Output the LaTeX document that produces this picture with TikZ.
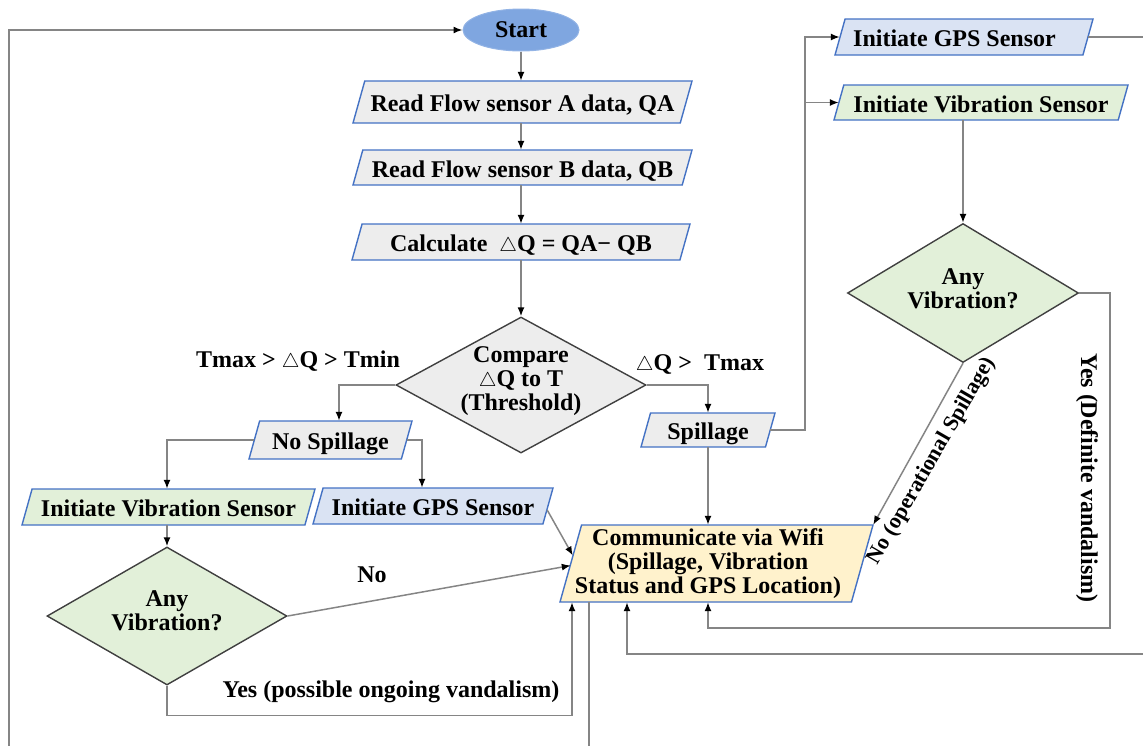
\documentclass[tikz,border=0pt]{standalone}
\usepackage{fontspec}
\setmainfont{Liberation Serif}
\usepackage{graphicx}
\usetikzlibrary{shapes.geometric,arrows.meta,calc}
\definecolor{pborder}{HTML}{4472C4}
\definecolor{dborder}{HTML}{404040}
\definecolor{conn}{HTML}{858585}
\definecolor{fgray}{HTML}{EDEDED}
\definecolor{fgreen}{HTML}{E2F0D9}
\definecolor{fblue}{HTML}{DAE3F3}
\definecolor{fyellow}{HTML}{FFF2CC}
\definecolor{fstart}{HTML}{7FA6E0}
\newcommand{\mytri}{\scalebox{0.8}{$\triangle$}}
% parallelogram: name, cx, cy, width, height, fill, text
\newcommand{\mypara}[7]{%
  \path[fill=#6, draw=pborder, line width=1.4pt]
    ({#2-#4/2},{#3+#5/2}) -- ({#2-#4/2+0.28*#5},{#3-#5/2}) --
    ({#2+#4/2},{#3-#5/2}) -- ({#2+#4/2-0.28*#5},{#3+#5/2}) -- cycle;
  \node[ptxt, minimum width=#4pt, minimum height=#5pt] (#1) at (#2,#3) {#7};}
\begin{document}
\begin{tikzpicture}[x=1pt,y=-1pt,
  every node/.style={font=\fontsize{24}{24}\selectfont\bfseries},
  ptxt/.style={rectangle, inner sep=0pt, text height=19pt, text depth=0pt},
  dia/.style={diamond, draw=dborder, line width=1.4pt, inner sep=0pt},
  lbl/.style={align=center, inner sep=0pt},
  link/.style={draw=conn, line width=1.5pt, -{Latex[length=9pt,width=7pt,color=black]}}]
\useasboundingbox (0,0) rectangle (1143,745);
\clip (0,0) rectangle (1143,745);

% ---- nodes ----
\node[ellipse, fill=fstart, draw=fstart!85!white, line width=1pt, minimum width=116pt, minimum height=42pt, inner sep=0pt] (start) at (521,30) {Start};
\mypara{readA}{522.5}{102}{339}{42}{fgray}{Read Flow sensor A data, QA}
\mypara{readB}{522.5}{167.5}{339}{35}{fgray}{Read Flow sensor B data, QB}
\mypara{calc}{521}{242}{338}{36}{fgray}{Calculate\ \ \mytri Q = QA− QB}
\node[dia, fill=fgray, minimum width=250pt, minimum height=136pt] (cmp) at (521,385) {};
\node[lbl] (cmpT) at (521,381) {Compare\\\mytri Q to T\\(Threshold)};

\mypara{nospill}{330.5}{440}{163}{38}{fgray}{No Spillage}
\mypara{vibL}{168.5}{507}{293}{36}{fgreen}{Initiate Vibration Sensor}
\mypara{gpsL}{433}{506}{240}{36}{fblue}{Initiate GPS Sensor}
\node[dia, fill=fgreen, minimum width=240pt, minimum height=138pt] (vibLd) at (167,616) {};
\node[lbl] (vibLdT) at (167,611) {Any\\Vibration?};

\mypara{spill}{708}{430}{134}{34}{fgray}{Spillage}
\mypara{comm}{716.5}{563.5}{313}{77}{fyellow}{}
\node[lbl] (commT) at (708,563.5) {Communicate via Wifi\\(Spillage, Vibration\\Status and GPS Location)};

\mypara{gpsR}{964}{37}{258}{36}{fblue}{\hspace*{-19pt}Initiate GPS Sensor}
\mypara{vibR}{981}{102.5}{294}{35}{fgreen}{Initiate Vibration Sensor}
\node[dia, fill=fgreen, minimum width=231pt, minimum height=139pt] (vibRd) at (963,293) {};
\node[lbl] (vibRdT) at (963,289) {Any\\Vibration?};

% ---- labels ----
\node[anchor=base, inner sep=0pt] (l1) at (298,367) {Tmax > \mytri Q > Tmin};
\node[anchor=base, inner sep=0pt] (l2) at (700,370) {\mytri Q >\ \ Tmax};
\node[anchor=base, inner sep=0pt] (l3) at (372,582) {No};
\node[anchor=base, inner sep=0pt] (l4) at (391,697) {Yes (possible ongoing vandalism)};
\node[inner sep=0pt, rotate=60, font=\fontsize{22}{22}\selectfont\bfseries] (l5) at (932,461) {No (operational Spillage)};
\node[inner sep=0pt, rotate=-90] (l6) at (1087,478) {Yes (Definite vandalism)};

% ---- connectors ----
\draw[link] (start.south) -- (start.south |- readA.north);
\draw[link] (start.south |- readA.south) -- (start.south |- readB.north);
\draw[link] (start.south |- readB.south) -- (start.south |- calc.north);
\draw[link] (start.south |- calc.south) -- (cmp.north);
\draw[link] (cmp.west) -| (339,0 |- nospill.north);
\draw[link] (cmp.east) -| (spill.north);
\draw[link] ([xshift=5pt]nospill.west) -| (167,0 |- vibL.north);
\draw[link] ([xshift=-5pt]nospill.east) -| (422,0 |- gpsL.north);
\draw[link] (167,0 |- vibL.south) -- (vibLd.north);
\draw[link] (vibLd.east) -- ([xshift=11pt,yshift=-2pt]comm.west);
\draw[link] ([xshift=-6pt,yshift=-4pt]gpsL.east) -- ([xshift=13pt,yshift=8pt]comm.west);
\draw[link] (vibLd.south) -- ++(0,30) -| (572,0 |- comm.south);
\draw[link] (spill.south) -- (spill.south |- comm.north);
\draw[link] ([xshift=-5pt]spill.east) -- (805,0 |- spill.east) -- (805,0 |- gpsR.west) -- ([xshift=5pt]gpsR.west);
\draw[link] (805,0 |- vibR.west) -- ([xshift=5pt]vibR.west);
\draw[link] (963,0 |- vibR.south) -- (vibRd.north);
\draw[link] (vibRd.east) -| (1110,628) -| (spill.south |- comm.south);
\draw[link] (vibRd.south) -- (comm.north east);
\draw[link] ([xshift=-5pt]gpsR.east) -- (1160,0 |- gpsR.east) |- (627,654) -- (627,0 |- comm.south);
\draw[link] (589,0 |- comm.south) -- (589,760) -| (9,0 |- start.west) -- (start.west);
\end{tikzpicture}
\end{document}
